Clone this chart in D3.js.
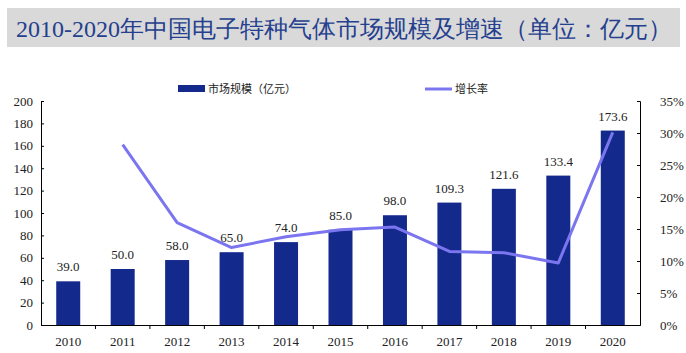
<!DOCTYPE html>
<html>
<head>
<meta charset="utf-8">
<script src="https://cdn.jsdelivr.net/npm/d3@7"></script>
<style>
  body { margin: 0; background: #fff; }
  svg text { font-family: "Liberation Serif", "DejaVu Serif", serif; }
</style>
</head>
<body>
<div class="chart"></div>
<script>
// data
const years = ["2010","2011","2012","2013","2014","2015","2016","2017","2018","2019","2020"];
const marketSize = [39.0, 50.0, 58.0, 65.0, 74.0, 85.0, 98.0, 109.3, 121.6, 133.4, 173.6];
// growth rate in %, no value for 2010
const growth = [null, 28.2, 16.0, 12.1, 13.8, 14.9, 15.3, 11.5, 11.3, 9.7, 30.1];
const leftTicks = [0, 20, 40, 60, 80, 100, 120, 140, 160, 180, 200];
const rightTicks = [0, 5, 10, 15, 20, 25, 30, 35];

const W = 686, H = 353;
const margin = {top: 101, right: 46, bottom: 28, left: 41};
const width = W - margin.left - margin.right,
      height = H - margin.top - margin.bottom;

const svg = d3.select(".chart").append("svg")
  .attr("width", W).attr("height", H);

// title band
svg.append("rect").attr("x", 7).attr("y", 8).attr("width", 673).attr("height", 39)
  .attr("fill", "#d9d9d9");
svg.append("text").attr("x", 16).attr("y", 37)
  .attr("fill", "#24408e").style("font-size", "24px")
  .text("2010-2020年中国电子特种气体市场规模及增速（单位：亿元）");

const g = svg.append("g").attr("transform", `translate(${margin.left}, ${margin.top})`);

const x = d3.scaleBand().domain(years).range([0, width]);
const y = d3.scaleLinear().domain([0, 200]).range([height, 0]);
const y2 = d3.scaleLinear().domain([0, 35]).range([height, 0]);

// left axis
const yAxis = g.append("g")
  .call(d3.axisLeft(y).tickValues(leftTicks).tickSize(-3).tickPadding(8));
// right axis
const y2Axis = g.append("g").attr("transform", `translate(${width}, 0)`)
  .call(d3.axisRight(y2).tickValues(rightTicks).tickSize(-3).tickPadding(20).tickFormat(d => d + "%"));
// x axis with ticks between categories
const xAxis = g.append("g").attr("transform", `translate(0, ${height})`)
  .call(d3.axisBottom(x).tickSize(0).tickPadding(12));
xAxis.selectAll(".between").data(years.slice(1)).join("line")
  .attr("x1", d => x(d)).attr("x2", d => x(d))
  .attr("y1", 0).attr("y2", 4).attr("stroke", "#000");

[yAxis, y2Axis, xAxis].forEach(a => {
  a.select(".domain").attr("stroke", "#000");
  a.selectAll("text").attr("fill", "#222").style("font-size", "13px")
    .style("font-family", "Liberation Serif, serif");
});
y2Axis.selectAll("text").attr("text-anchor", "start");

// bars
const barW = 24;
g.selectAll(".bar").data(marketSize).join("rect")
  .attr("x", (d, i) => x(years[i]) + x.bandwidth() / 2 - barW / 2)
  .attr("y", d => y(d))
  .attr("width", barW)
  .attr("height", d => height - y(d))
  .attr("fill", "#14298c");

// bar labels
g.selectAll(".lbl").data(marketSize).join("text")
  .attr("x", (d, i) => x(years[i]) + x.bandwidth() / 2)
  .attr("y", d => y(d) - 10)
  .attr("text-anchor", "middle")
  .attr("fill", "#222").style("font-size", "13px")
  .text(d => d.toFixed(1));

// growth line
const line = d3.line()
  .defined(d => d != null)
  .x((d, i) => x(years[i]) + x.bandwidth() / 2)
  .y(d => y2(d));
g.append("path").datum(growth)
  .attr("d", line)
  .attr("fill", "none")
  .attr("stroke", "#7b76f0")
  .attr("stroke-width", 3)
  .attr("stroke-linejoin", "round");

// legend
const leg = svg.append("g");
leg.append("rect").attr("x", 178).attr("y", 85).attr("width", 27).attr("height", 7).attr("fill", "#14298c");
leg.append("text").attr("x", 208).attr("y", 93)
  .style("font-family", "Noto Sans CJK SC, sans-serif")
  .attr("fill", "#222").style("font-size", "11px").text("市场规模（亿元）");
leg.append("line").attr("x1", 425).attr("x2", 452).attr("y1", 89).attr("y2", 89)
  .attr("stroke", "#7b76f0").attr("stroke-width", 3);
leg.append("text").attr("x", 455).attr("y", 93)
  .style("font-family", "Noto Sans CJK SC, sans-serif")
  .attr("fill", "#222").style("font-size", "11px").text("增长率");
</script>
</body>
</html>
